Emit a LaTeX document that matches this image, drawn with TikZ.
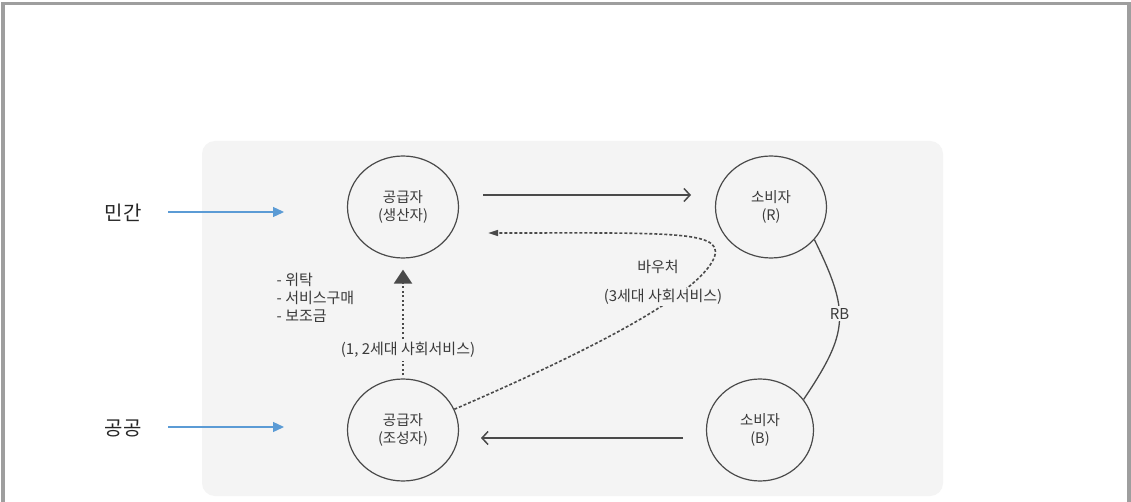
\documentclass[tikz,border=0pt]{standalone}
\usepackage{fontspec}
\setmainfont{Noto Sans CJK KR}
\usetikzlibrary{shapes.geometric,arrows.meta}
\definecolor{panel}{HTML}{F4F4F4}
\definecolor{ink}{HTML}{4A4A4A}
\definecolor{txt}{HTML}{3A3A3A}
\definecolor{blueone}{HTML}{5B9BD5}
\definecolor{framegray}{HTML}{9E9E9E}
\begin{document}
\begin{tikzpicture}[x=1pt,y=-1pt,
  agent/.style={draw=ink, line width=1.2pt, ellipse, minimum width=111pt, minimum height=102pt,
    inner sep=0pt, align=center, text=txt, font=\fontsize{14.5}{17.7}\selectfont},
  lbl/.style={text=txt, font=\fontsize{15}{18}\selectfont, inner sep=1.5pt, align=left},
  side/.style={text=black!85, font=\fontsize{20}{24}\selectfont, inner sep=0pt},
  flow/.style={draw=ink, line width=1.5pt, -{Straight Barb[length=6pt,width=13pt]}},
  dashflow/.style={draw=ink, line width=1.6pt, dash pattern=on 3pt off 2pt,
    -{Triangle[length=10pt,width=6pt]}},
  dotflow/.style={draw=ink, line width=2pt, dash pattern=on 2pt off 2.6pt,
    -{Triangle[length=14pt,width=18pt]}},
  linkline/.style={draw=ink, line width=1.3pt},
  bluearrow/.style={draw=blueone, line width=1.3pt, -{Triangle[length=11pt,width=10pt]}}
]
\useasboundingbox (0,0) rectangle (1131,502);
\fill[white] (0,0) rectangle (1131,502);
% frame
\draw[framegray, line width=3.5pt] (3,502) -- (3,3.5) -- (1129,3.5) -- (1129,502);
% panel
\fill[panel, rounded corners=13pt] (202,141) rectangle (943,496);

% circles
\node[agent] (tl) at (403,207) {공급자\\(생산자)};
\node[agent] (tr) at (771,207) {소비자\\(R)};
\node[agent] (bl) at (403,430) {공급자\\(조성자)};
\node[agent, minimum width=107pt] (br) at (760,430) {소비자\\(B)};

% side labels
\node[side] (min) at (123,213) {민간};
\node[side] (gong) at (123,428) {공공};
\coordinate (m1) at (168,212);
\coordinate (m2) at (284,212);
\coordinate (g1) at (168,427);
\coordinate (g2) at (284,427);
\draw[bluearrow] (m1) -- (m2);
\draw[bluearrow] (g1) -- (g2);

% horizontal flows
\coordinate (t1) at (483,195);
\coordinate (t2) at (691,195);
\draw[flow] (t1) -- (t2);
\coordinate (b1) at (683,438);
\coordinate (b2) at (481,438);
\draw[flow] (b1) -- (b2);

% voucher curve
\coordinate (vtip) at (488,233);
\draw[dashflow] (bl.22) .. controls (580,355) and (690,300) .. (712,262)
  .. controls (730,230) and (680,233) .. (vtip);
\node[lbl] (vou) at (658,267) {바우처};
\node[lbl, fill=panel] (gen3) at (663,297) {(3세대 사회서비스)};

% vertical dotted flow
\draw[dotflow, shorten >=11pt, shorten <=3pt] (bl.north) -- (tl.south);
\node[lbl, fill=panel, inner sep=3pt] (gen12) at (408,350) {(1, 2세대 사회서비스)};
\node[lbl, anchor=west] (list) at (275,298) {- 위탁\\- 서비스구매\\- 보조금};

% RB link
\draw[linkline] (tr.-37) to[bend left=30, looseness=1.3]
  node[pos=0.44, fill=panel, inner sep=2pt, text=txt, font=\fontsize{15}{17}\selectfont] (rb) {RB} (br.35);
\end{tikzpicture}
\end{document}
